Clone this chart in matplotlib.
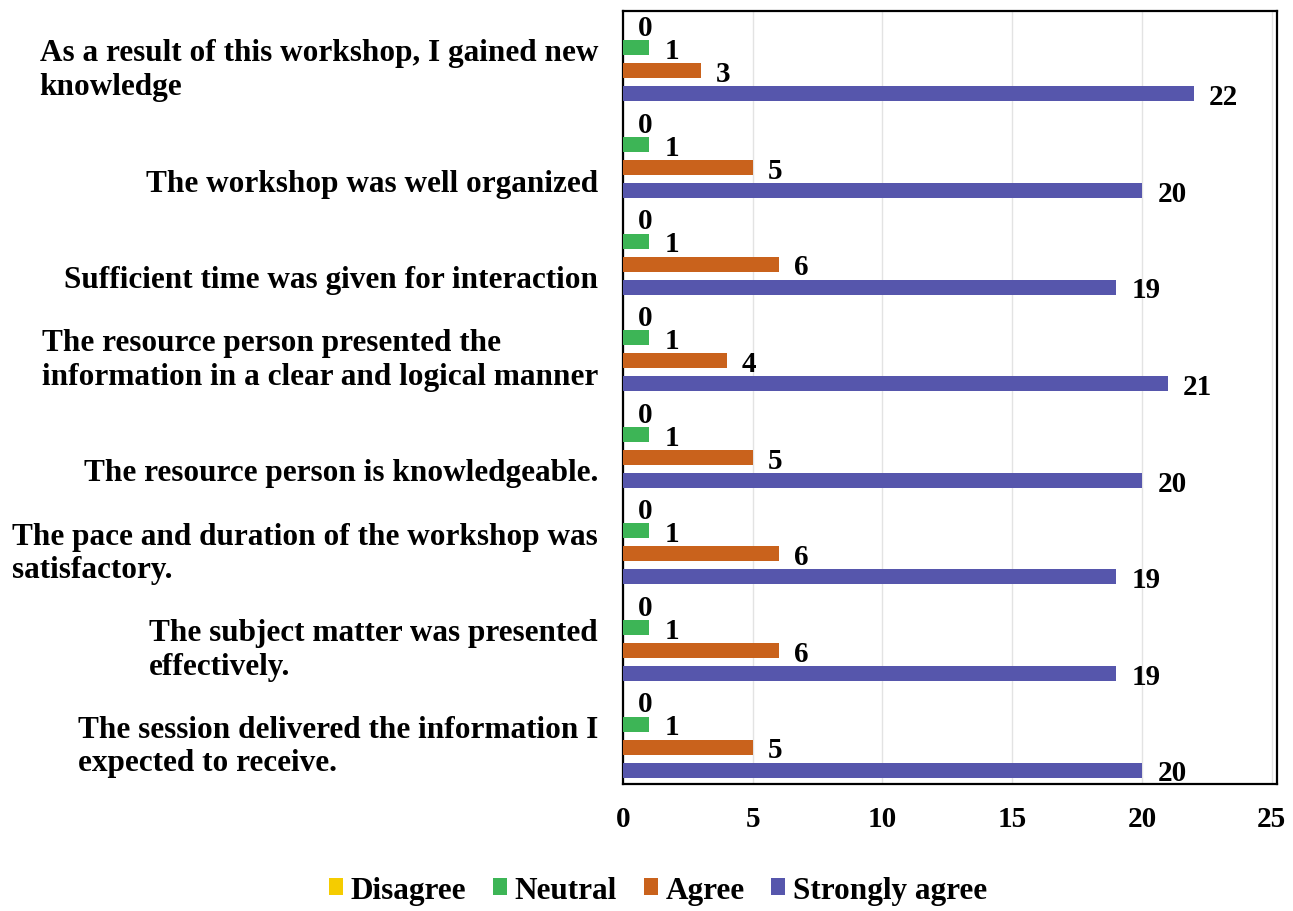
import numpy as np
import matplotlib
matplotlib.use('Agg')
import matplotlib.pyplot as plt
from matplotlib.patches import Patch

# Survey statements, top to bottom
statements = [
    'As a result of this workshop, I gained new\nknowledge',
    'The workshop was well organized',
    'Sufficient time was given for interaction',
    'The resource person presented the\ninformation in a clear and logical manner',
    'The resource person is knowledgeable.',
    'The pace and duration of the workshop was\nsatisfactory.',
    'The subject matter was presented\neffectively.',
    'The session delivered the information I\nexpected to receive.',
]
series_names = ['Disagree', 'Neutral', 'Agree', 'Strongly agree']
disagree = [0, 0, 0, 0, 0, 0, 0, 0]
neutral = [1, 1, 1, 1, 1, 1, 1, 1]
agree = [3, 5, 6, 4, 5, 6, 6, 5]
strongly_agree = [22, 20, 19, 21, 20, 19, 19, 20]
x_ticks = [0, 5, 10, 15, 20, 25]

colors = ['#F5CC00', '#3DB556', '#C9621C', '#5656AC']
series = [disagree, neutral, agree, strongly_agree]

plt.rcParams['font.family'] = ['Liberation Serif', 'DejaVu Serif']
plt.rcParams['font.weight'] = 'bold'

fig = plt.figure(figsize=(12.93, 9.12), dpi=100)
ax = fig.add_axes([0.4818, 0.1393, 0.5058, 0.8475])

y = np.arange(len(statements))
slot = 0.238
bar_h = 0.155
for k, (vals, col) in enumerate(zip(series, colors)):
    pos = y + (k - 1.5) * slot
    ax.barh(pos, vals, height=bar_h, color=col, zorder=3)
    for p, v in zip(pos, vals):
        ax.annotate(str(v), (v, p), xytext=(11, -2), textcoords='offset points',
                    ha='left', va='center', fontsize=21, fontweight='bold')

ax.set_ylim(len(statements) - 0.5, -0.5)
ax.set_xlim(0, 25.2)
ax.set_xticks(x_ticks)
ax.set_xticklabels([str(t) for t in x_ticks], fontsize=21, fontweight='bold')
# category labels sit near the bottom of each group, like the original
ax.set_yticks(y + 0.43)
ax.set_yticklabels(statements, fontsize=22.5, fontweight='bold', ha='right',
                   va='bottom', multialignment='left', linespacing=1.2)
ax.tick_params(axis='both', length=0)
ax.tick_params(axis='x', pad=15)
ax.tick_params(axis='y', pad=18)
ax.grid(axis='x', color='#E3E3E3', linewidth=1, zorder=0)
for s in ax.spines.values():
    s.set_linewidth(1.6)
    s.set_color('black')

handles = [Patch(facecolor=c, edgecolor='none') for c in colors]
fig.legend(handles, series_names, loc='center', bbox_to_anchor=(0.509, 0.023),
           ncol=4, frameon=False, fontsize=22.5, handlelength=0.45, handleheight=0.5,
           handletextpad=0.25, columnspacing=0.85)

fig.savefig('out.png', dpi=100, facecolor='white')
